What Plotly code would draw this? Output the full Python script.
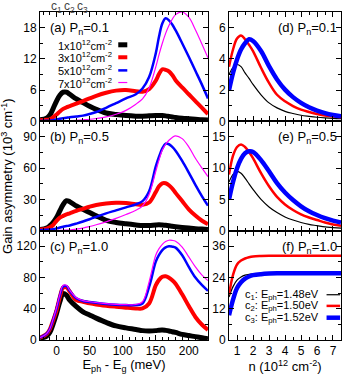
import plotly.graph_objects as go
from plotly.subplots import make_subplots

# ---- data: left panels, gain asymmetry vs photon energy ----
E_meV = [-25, -15, -10, -5, 0, 5, 10, 15, 20, 30, 40, 50, 60, 75, 90, 105, 120, 130,
         140, 150, 155, 160, 165, 170, 175, 180, 190, 200, 210, 220, 229]

a_n1 = [0.3, 0.6, 1.2, 2.5, 3.9, 5.0, 5.6, 5.6, 5.2, 4.3, 3.6, 2.9, 2.3, 1.6, 1.3, 1.1, 1.0, 1.0,
        1.05, 1.1, 1.1, 1.1, 1.05, 0.95, 0.85, 0.75, 0.6, 0.5, 0.4, 0.3, 0.25]
a_n3 = [0.2, 0.3, 0.4, 0.8, 1.3, 1.9, 2.4, 2.7, 2.9, 3.4, 3.9, 4.4, 4.9, 5.5, 5.9, 6.0, 5.8, 5.7,
        6.2, 7.8, 9.1, 10.0, 9.9, 9.6, 8.9, 7.9, 6.5, 5.2, 3.9, 2.6, 1.4]
a_n5 = [0.05, 0.1, 0.15, 0.2, 0.4, 0.5, 0.6, 0.7, 0.8, 0.95, 1.1, 1.4, 1.8, 2.6, 3.5, 4.4, 5.2, 6.3,
        8.5, 13.0, 16.3, 18.8, 19.8, 19.4, 18.6, 17.5, 15.0, 12.4, 9.7, 7.0, 4.4]
a_n7 = [0, 0, 0, 0.02, 0.05, 0.07, 0.09, 0.1, 0.12, 0.2, 0.3, 0.4, 0.55, 0.85, 1.35, 2.1, 3.3, 4.3,
        6.4, 10.4, 12.8, 15.0, 16.9, 18.4, 19.6, 20.5, 21.0, 20.0, 17.6, 14.8, 12.2]

b_n1 = [1, 2.5, 4.7, 8, 12.6, 19, 25, 28.8, 27.8, 23.7, 20.5, 17.4, 14.2, 10, 7.9, 6.6, 5.5, 4.9,
        5.0, 5.5, 5.6, 5.4, 5.1, 4.7, 4.2, 3.8, 3.1, 2.5, 1.9, 1.5, 1.2]
b_n3 = [1, 2, 3.2, 5.5, 9.5, 12.5, 14.2, 15.6, 16.7, 19, 21, 23, 24.6, 26, 26.8, 26.6, 25.3, 24.8,
        27, 37, 42.6, 45.5, 45.5, 43.6, 40.5, 36.3, 28.4, 20.5, 14.5, 9.5, 6.3]
b_n5 = [0.5, 0.8, 1.0, 1.5, 2.2, 3.0, 3.8, 4.4, 5.0, 6.8, 8.8, 11, 13.3, 16.6, 19.5, 22.4, 25.3, 28.4,
        37.9, 61.6, 71, 79, 83.5, 83, 80.5, 76.8, 67, 55.8, 44, 33, 24]
b_n7 = [0, 0, 0.05, 0.1, 0.2, 0.3, 0.4, 0.5, 0.6, 1.4, 2.5, 4, 5.7, 8.5, 11.8, 15.5, 19.6, 23.7,
        34.7, 56.8, 68, 77.4, 83, 86.8, 89.5, 91, 88.4, 80.5, 69.5, 60, 52]

c_n1 = [2, 5, 10, 21, 34, 49, 59.6, 57.4, 51, 42.6, 36, 32, 28, 22.5, 18, 15.5, 13.5, 12,
        11.6, 12, 12.6, 12.8, 12.3, 11.6, 10.6, 9.7, 7.2, 5.7, 4.3, 2.8, 1.6]
c_n3 = [3, 7.7, 14, 25.5, 38, 55, 67, 67.5, 62, 51, 49, 47, 45.5, 43.9, 42.6, 41.4, 40.4, 40.4,
        46.8, 70, 77, 80.9, 81.7, 79.8, 76.6, 72, 58.5, 43.5, 29.5, 19.5, 13]
c_n5 = [3, 8, 14.5, 26.5, 40, 57, 68.5, 69, 63, 53.5, 50, 48.8, 47.7, 46, 45, 44.7, 44.7, 46.8,
        68, 100, 109, 115, 118.5, 120, 119.5, 118.3, 108.5, 93.6, 80, 70.2, 63]
c_n7 = [3, 8, 14.5, 27, 41, 58, 70, 70, 63.5, 54, 50.5, 49, 48, 46.5, 45.5, 45.2, 45.5, 49,
        74.5, 108.5, 117, 122.5, 126, 127.7, 127.5, 126.4, 119, 106.4, 93.6, 83, 76]

# ---- data: right panels, gain asymmetry vs carrier density ----
n_1e12 = [0.5, 0.75, 1.0, 1.25, 1.5, 1.75, 2.0, 2.5, 3.0, 3.5, 4.0, 4.5, 5.0, 5.5, 6.0, 6.5, 7.0, 7.5]

d_c1 = [3.0, 3.45, 3.64, 3.5, 3.1, 2.75, 2.36, 1.7, 1.18, 0.86, 0.64, 0.5, 0.39, 0.32, 0.26, 0.22, 0.19, 0.17]
d_c2 = [3.5, 4.6, 5.3, 5.5, 5.25, 4.9, 4.5, 3.43, 2.46, 1.7, 1.28, 0.98, 0.75, 0.6, 0.47, 0.38, 0.31, 0.26]
d_c3 = [2.0, 3.1, 3.96, 4.6, 5.0, 5.25, 5.14, 4.5, 3.53, 2.68, 2.03, 1.55, 1.18, 0.9, 0.69, 0.53, 0.41, 0.32]

e_c1 = [7.8, 9.0, 9.5, 9.2, 8.4, 7.5, 6.6, 5.0, 3.8, 2.9, 2.2, 1.7, 1.3, 1.0, 0.8, 0.6, 0.5, 0.4]
e_c2 = [9.0, 12.0, 13.4, 13.8, 13.4, 12.6, 11.6, 9.2, 7.1, 5.4, 4.2, 3.3, 2.6, 2.1, 1.7, 1.3, 1.0, 0.8]
e_c3 = [5.0, 7.8, 10.0, 11.5, 12.4, 12.7, 12.6, 11.3, 9.5, 7.6, 6.1, 4.9, 3.9, 3.1, 2.5, 2.0, 1.6, 1.3]

f_c1 = [16.5, 20.5, 23, 24.2, 24.9, 25.2, 25.4, 25.5, 25.5, 25.5, 25.5, 25.5, 25.5, 25.5, 25.5, 25.5, 25.5, 25.5]
f_c2 = [17.5, 25, 29, 30.5, 31.3, 31.8, 32.1, 32.3, 32.4, 32.4, 32.4, 32.4, 32.4, 32.4, 32.4, 32.4, 32.4, 32.4]
f_c3 = [9.5, 15.5, 20, 22.2, 23.6, 24.4, 24.9, 25.3, 25.5, 25.6, 25.6, 25.6, 25.6, 25.6, 25.6, 25.6, 25.6, 25.6]

c_energies = [0, 20, 40]   # c1, c2, c3 in meV above gap
density_labels = ["1x10<sup>12</sup>cm<sup>-2</sup>", "3x10<sup>12</sup>cm<sup>-2</sup>",
                  "5x10<sup>12</sup>cm<sup>-2</sup>", "7x10<sup>12</sup>cm<sup>-2</sup>"]
energy_labels = ["c<sub>1</sub>: E<sub>ph</sub>=1.48eV", "c<sub>2</sub>: E<sub>ph</sub>=1.50eV",
                 "c<sub>3</sub>: E<sub>ph</sub>=1.52eV"]
panel_labels = ["(a) P<sub>n</sub>=0.1", "(b) P<sub>n</sub>=0.5", "(c) P<sub>n</sub>=1.0",
                "(d) P<sub>n</sub>=0.1", "(e) P<sub>n</sub>=0.5", "(f) P<sub>n</sub>=1.0"]

left_colors = ['#000000', '#ff0000', '#0000ff', '#ff00ff']
left_widths = [5, 4, 2.5, 1.2]
right_colors = ['#000000', '#ff0000', '#0000ff']
right_widths = [1.2, 2.5, 4.5]

FONT = "Liberation Sans, Arial, sans-serif"

fig = make_subplots(rows=3, cols=2, vertical_spacing=0, horizontal_spacing=0.07,
                    column_widths=[0.6, 0.4])

# grey guide lines at c1, c2, c3
for r in (1, 2, 3):
    for ce in c_energies:
        fig.add_vline(x=ce, row=r, col=1, line_color='#bdbdbd', line_width=2, layer='below')

left_sets = [[a_n1, a_n3, a_n5, a_n7], [b_n1, b_n3, b_n5, b_n7], [c_n1, c_n3, c_n5, c_n7]]
for r, series in enumerate(left_sets, start=1):
    for k, ys in enumerate(series):
        fig.add_trace(go.Scatter(x=E_meV, y=ys, mode='lines', line_shape='spline',
                                 line=dict(color=left_colors[k], width=left_widths[k]),
                                 showlegend=False), row=r, col=1)

right_sets = [[d_c1, d_c2, d_c3], [e_c1, e_c2, e_c3], [f_c1, f_c2, f_c3]]
for r, series in enumerate(right_sets, start=1):
    for k, ys in enumerate(series):
        fig.add_trace(go.Scatter(x=n_1e12, y=ys, mode='lines', line_shape='spline',
                                 line=dict(color=right_colors[k], width=right_widths[k]),
                                 showlegend=False), row=r, col=2)

axis_style = dict(showline=True, linecolor='black', linewidth=1, mirror='ticks',
                  ticks='inside', ticklen=5, tickcolor='black', showgrid=False, zeroline=False,
                  tickfont=dict(size=12, color='black', family=FONT))

left_y = [(21, 6), (105, 30), (140, 40)]
right_y = [(7, 2), (17.5, 5), (42, 12)]
for r in (1, 2, 3):
    fig.update_xaxes(range=[-25, 229], dtick=50, tick0=0, showticklabels=(r == 3),
                     minor=dict(ticks='inside', ticklen=3, dtick=10, tickcolor='black'),
                     row=r, col=1, **axis_style)
    fig.update_xaxes(range=[0.5, 7.5], dtick=1, tick0=0, showticklabels=(r == 3),
                     minor=dict(ticks='inside', ticklen=3, dtick=0.5, tickcolor='black'),
                     row=r, col=2, **axis_style)
    top, step = left_y[r - 1]
    fig.update_yaxes(range=[0, top], dtick=step, tick0=0,
                     minor=dict(ticks='inside', ticklen=3, dtick=step / 2, tickcolor='black'),
                     row=r, col=1, **axis_style)
    top, step = right_y[r - 1]
    fig.update_yaxes(range=[0, top], dtick=step, tick0=0,
                     minor=dict(ticks='inside', ticklen=3, dtick=step / 2, tickcolor='black'),
                     row=r, col=2, **axis_style)

fig.update_xaxes(title=dict(text="E<sub>ph</sub> - E<sub>g</sub> (meV)", standoff=2,
                            font=dict(size=13, family=FONT, color='black')), row=3, col=1)
fig.update_xaxes(title=dict(text="n (10<sup>12</sup> cm<sup>-2</sup>)", standoff=2,
                            font=dict(size=13, family=FONT, color='black')), row=3, col=2)

anns = []
# panel labels
for i, lab in enumerate(panel_labels):
    r = i % 3
    left = i < 3
    y_top = 1 - r / 3
    anns.append(dict(text=lab, xref='paper', yref='paper',
                     x=0.025 if left else 0.995, xanchor='left' if left else 'right',
                     y=y_top - 0.018, yanchor='top', showarrow=False,
                     font=dict(size=13, family=FONT, color='black')))
# c labels above top panel
for k, ce in enumerate(c_energies):
    anns.append(dict(text=f"c<sub>{k + 1}</sub>", xref='x', yref='paper', x=ce, y=1.0,
                     yanchor='top', yshift=14, showarrow=False, borderpad=0,
                     font=dict(size=12, family=FONT, color='#444444')))
# y axis title
anns.append(dict(text="Gain asymmetry (10<sup>3</sup> cm<sup>-1</sup>)", xref='paper', yref='paper',
                 x=-0.11, y=0.5, textangle=-90, xanchor='center', yanchor='middle',
                 showarrow=False, font=dict(size=13, family=FONT, color='black')))

shapes = []
# legend (a): density
leg_a_y = [0.9, 0.862, 0.822, 0.785]
for k, lab in enumerate(density_labels):
    anns.append(dict(text=lab, xref='paper', yref='paper', x=0.245, y=leg_a_y[k],
                     xanchor='right', yanchor='middle', showarrow=False,
                     font=dict(size=11, family=FONT, color='black')))
    shapes.append(dict(type='line', xref='paper', yref='paper', x0=0.26, x1=0.29,
                       y0=leg_a_y[k], y1=leg_a_y[k],
                       line=dict(color=left_colors[k], width=left_widths[k])))
# legend (f): photon energy
leg_f_y = [0.138, 0.104, 0.068]
for k, lab in enumerate(energy_labels):
    anns.append(dict(text=lab, xref='paper', yref='paper', x=0.935, y=leg_f_y[k],
                     xanchor='right', yanchor='middle', showarrow=False,
                     font=dict(size=11, family=FONT, color='black')))
    shapes.append(dict(type='line', xref='paper', yref='paper', x0=0.952, x1=0.997,
                       y0=leg_f_y[k], y1=leg_f_y[k],
                       line=dict(color=right_colors[k], width=right_widths[k])))

fig.update_layout(width=342, height=374, margin=dict(l=40, r=1, t=12, b=34),
                  plot_bgcolor='white', paper_bgcolor='white',
                  font=dict(family=FONT, color='black'),
                  annotations=list(fig.layout.annotations) + anns,
                  shapes=list(fig.layout.shapes) + shapes)

fig.write_html("out.html", config={'displayModeBar': False},
               post_script="document.body.style.margin='0';")
